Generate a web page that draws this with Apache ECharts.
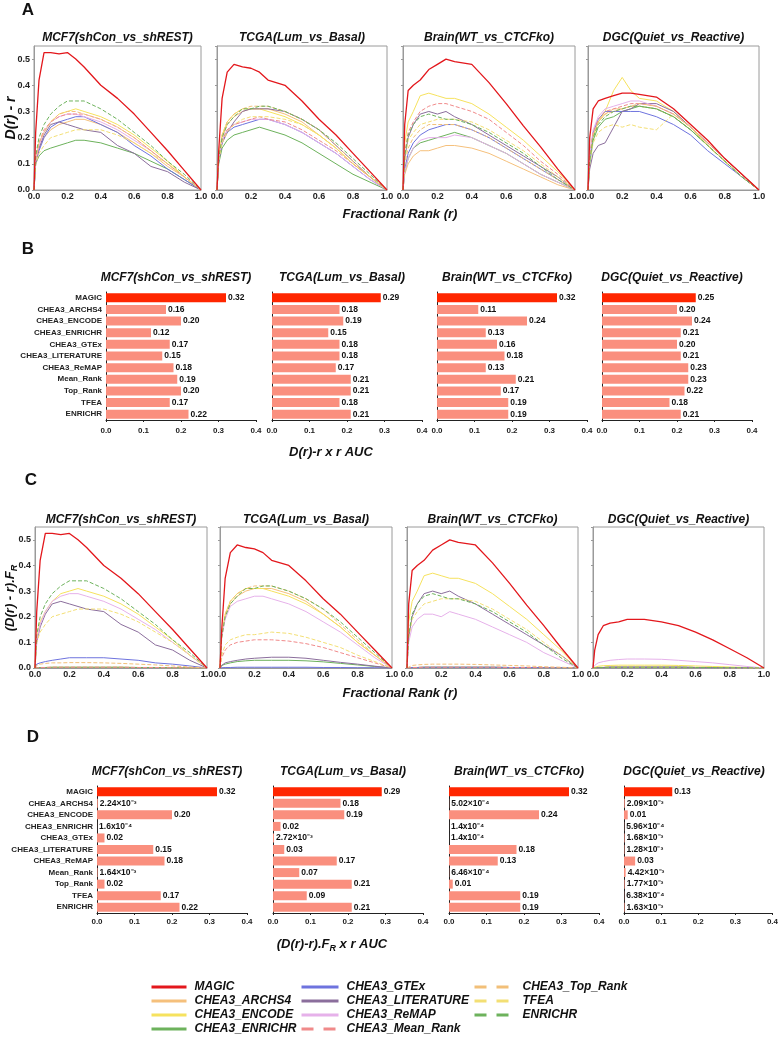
<!DOCTYPE html>
<html><head><meta charset="utf-8">
<script src="https://cdn.jsdelivr.net/npm/echarts/dist/echarts.min.js"></script>
<style>html,body{margin:0;padding:0;background:#fff}#c{width:781px;height:1041px}</style>
</head><body><div id="c"></div><script>
// ---------- DATA ----------
const rGrid = [0, 0.01, 0.03, 0.06, 0.1, 0.15, 0.2, 0.25, 0.3, 0.4, 0.5, 0.6, 0.7, 0.8, 0.9, 1.0];
const datasetTitles = ['MCF7(shCon_vs_shREST)', 'TCGA(Lum_vs_Basal)', 'Brain(WT_vs_CTCFko)', 'DGC(Quiet_vs_Reactive)'];
const legendNames = ['MAGIC','CHEA3_ARCHS4','CHEA3_ENCODE','CHEA3_ENRICHR','CHEA3_GTEx','CHEA3_LITERATURE','CHEA3_ReMAP','CHEA3_Mean_Rank','CHEA3_Top_Rank','TFEA','ENRICHR'];
const barCategories = ['MAGIC','CHEA3_ARCHS4','CHEA3_ENCODE','CHEA3_ENRICHR','CHEA3_GTEx','CHEA3_LITERATURE','CHEA3_ReMAP','Mean_Rank','Top_Rank','TFEA','ENRICHR'];
const lineColors = ['#e3171c','#f5c07c','#f6e25e','#6db25c','#6e73de','#8b6e9c','#e6b1ea','#f08a8a','#f2bf78','#f3df74','#6db25c'];
const lineDashed = [false,false,false,false,false,false,false,true,true,true,true];

const near0 = [0, 0.001, 0.002, 0.002, 0.003, 0.003, 0.003, 0.003, 0.003, 0.003, 0.003, 0.002, 0.002, 0.001, 0.001, 0];

// Panel A: D(r) - r
const curvesA_MCF7 = [
  [0, 0.22, 0.42, 0.525, 0.525, 0.52, 0.525, 0.50, 0.47, 0.40, 0.35, 0.29, 0.22, 0.15, 0.075, 0],
  [0, 0.11, 0.16, 0.20, 0.23, 0.25, 0.26, 0.27, 0.27, 0.25, 0.22, 0.18, 0.14, 0.09, 0.05, 0],
  [0, 0.12, 0.18, 0.22, 0.26, 0.29, 0.30, 0.31, 0.30, 0.28, 0.25, 0.21, 0.16, 0.11, 0.05, 0],
  [0, 0.10, 0.13, 0.15, 0.16, 0.17, 0.18, 0.19, 0.19, 0.18, 0.16, 0.14, 0.11, 0.08, 0.04, 0],
  [0, 0.10, 0.15, 0.20, 0.24, 0.26, 0.27, 0.28, 0.28, 0.25, 0.22, 0.17, 0.13, 0.08, 0.04, 0],
  [0, 0.10, 0.16, 0.21, 0.25, 0.26, 0.25, 0.24, 0.23, 0.22, 0.17, 0.14, 0.09, 0.07, 0.03, 0],
  [0, 0.11, 0.17, 0.22, 0.26, 0.28, 0.29, 0.29, 0.28, 0.26, 0.23, 0.19, 0.15, 0.10, 0.05, 0],
  [0, 0.12, 0.18, 0.23, 0.26, 0.28, 0.29, 0.29, 0.29, 0.27, 0.24, 0.20, 0.15, 0.10, 0.05, 0],
  [0, 0.12, 0.18, 0.22, 0.26, 0.29, 0.30, 0.30, 0.29, 0.27, 0.24, 0.20, 0.15, 0.10, 0.05, 0],
  [0, 0.10, 0.14, 0.17, 0.20, 0.21, 0.22, 0.23, 0.23, 0.23, 0.21, 0.18, 0.14, 0.10, 0.05, 0],
  [0, 0.13, 0.20, 0.25, 0.29, 0.32, 0.34, 0.34, 0.34, 0.31, 0.27, 0.22, 0.17, 0.11, 0.06, 0]
];
const curvesA_TCGA = [
  [0, 0.15, 0.35, 0.45, 0.48, 0.47, 0.465, 0.45, 0.42, 0.40, 0.34, 0.27, 0.21, 0.14, 0.07, 0],
  [0, 0.12, 0.20, 0.25, 0.28, 0.30, 0.31, 0.31, 0.31, 0.29, 0.26, 0.21, 0.16, 0.10, 0.05, 0],
  [0, 0.13, 0.21, 0.26, 0.29, 0.31, 0.31, 0.31, 0.30, 0.28, 0.25, 0.21, 0.16, 0.10, 0.05, 0],
  [0, 0.10, 0.16, 0.19, 0.21, 0.22, 0.23, 0.24, 0.23, 0.21, 0.18, 0.14, 0.10, 0.06, 0.03, 0],
  [0, 0.11, 0.18, 0.22, 0.24, 0.25, 0.26, 0.27, 0.27, 0.25, 0.22, 0.18, 0.14, 0.09, 0.04, 0],
  [0, 0.11, 0.18, 0.22, 0.26, 0.30, 0.31, 0.31, 0.31, 0.30, 0.27, 0.23, 0.17, 0.11, 0.05, 0],
  [0, 0.12, 0.19, 0.23, 0.25, 0.26, 0.27, 0.27, 0.27, 0.25, 0.22, 0.18, 0.14, 0.09, 0.04, 0],
  [0, 0.12, 0.19, 0.23, 0.25, 0.26, 0.27, 0.28, 0.27, 0.26, 0.23, 0.19, 0.15, 0.10, 0.05, 0],
  [0, 0.13, 0.21, 0.26, 0.29, 0.31, 0.32, 0.32, 0.32, 0.30, 0.27, 0.23, 0.17, 0.11, 0.05, 0],
  [0, 0.11, 0.18, 0.22, 0.25, 0.27, 0.28, 0.28, 0.28, 0.27, 0.25, 0.21, 0.16, 0.10, 0.05, 0],
  [0, 0.12, 0.20, 0.25, 0.28, 0.31, 0.31, 0.32, 0.32, 0.30, 0.27, 0.23, 0.18, 0.12, 0.06, 0]
];
const curvesA_Brain = [
  [0, 0.25, 0.38, 0.40, 0.42, 0.46, 0.48, 0.50, 0.49, 0.48, 0.41, 0.33, 0.245, 0.165, 0.08, 0],
  [0, 0.06, 0.10, 0.13, 0.15, 0.15, 0.16, 0.17, 0.17, 0.16, 0.14, 0.11, 0.08, 0.05, 0.02, 0],
  [0, 0.18, 0.26, 0.30, 0.36, 0.37, 0.36, 0.35, 0.35, 0.33, 0.29, 0.24, 0.19, 0.13, 0.07, 0],
  [0, 0.07, 0.12, 0.16, 0.18, 0.19, 0.20, 0.21, 0.22, 0.20, 0.17, 0.14, 0.10, 0.06, 0.03, 0],
  [0, 0.08, 0.14, 0.18, 0.21, 0.23, 0.24, 0.25, 0.25, 0.23, 0.20, 0.16, 0.12, 0.08, 0.04, 0],
  [0, 0.12, 0.20, 0.25, 0.29, 0.30, 0.29, 0.30, 0.28, 0.25, 0.21, 0.17, 0.13, 0.09, 0.05, 0],
  [0, 0.07, 0.12, 0.16, 0.19, 0.20, 0.20, 0.20, 0.21, 0.20, 0.17, 0.14, 0.10, 0.06, 0.03, 0],
  [0, 0.14, 0.22, 0.26, 0.30, 0.32, 0.33, 0.33, 0.32, 0.30, 0.27, 0.22, 0.17, 0.11, 0.06, 0],
  [0, 0.10, 0.16, 0.20, 0.23, 0.25, 0.25, 0.25, 0.25, 0.23, 0.20, 0.16, 0.12, 0.08, 0.04, 0],
  [0, 0.12, 0.19, 0.22, 0.25, 0.26, 0.27, 0.27, 0.27, 0.26, 0.23, 0.19, 0.15, 0.10, 0.05, 0],
  [0, 0.13, 0.21, 0.25, 0.28, 0.29, 0.28, 0.27, 0.27, 0.25, 0.22, 0.18, 0.14, 0.09, 0.04, 0]
];
const curvesA_DGC = [
  [0, 0.20, 0.31, 0.34, 0.35, 0.36, 0.37, 0.37, 0.365, 0.355, 0.31, 0.25, 0.19, 0.12, 0.06, 0],
  [0, 0.12, 0.21, 0.26, 0.29, 0.31, 0.31, 0.32, 0.32, 0.31, 0.28, 0.23, 0.17, 0.11, 0.05, 0],
  [0, 0.12, 0.20, 0.26, 0.30, 0.38, 0.43, 0.38, 0.35, 0.34, 0.30, 0.24, 0.17, 0.11, 0.05, 0],
  [0, 0.10, 0.19, 0.24, 0.27, 0.28, 0.30, 0.31, 0.32, 0.31, 0.28, 0.23, 0.17, 0.11, 0.05, 0],
  [0, 0.12, 0.22, 0.27, 0.30, 0.30, 0.30, 0.30, 0.30, 0.28, 0.25, 0.21, 0.15, 0.10, 0.05, 0],
  [0, 0.08, 0.14, 0.17, 0.18, 0.24, 0.30, 0.31, 0.33, 0.33, 0.30, 0.24, 0.18, 0.12, 0.06, 0],
  [0, 0.13, 0.23, 0.28, 0.31, 0.32, 0.33, 0.34, 0.34, 0.32, 0.29, 0.24, 0.18, 0.12, 0.06, 0],
  [0, 0.13, 0.22, 0.27, 0.30, 0.31, 0.32, 0.33, 0.33, 0.32, 0.29, 0.24, 0.18, 0.12, 0.06, 0],
  [0, 0.12, 0.21, 0.26, 0.29, 0.30, 0.31, 0.32, 0.33, 0.32, 0.29, 0.24, 0.18, 0.12, 0.06, 0],
  [0, 0.10, 0.18, 0.22, 0.24, 0.25, 0.24, 0.25, 0.24, 0.23, 0.29, 0.24, 0.17, 0.11, 0.05, 0],
  [0, 0.11, 0.20, 0.25, 0.28, 0.30, 0.31, 0.32, 0.32, 0.31, 0.28, 0.23, 0.17, 0.11, 0.05, 0]
];

// Panel C: (D(r) - r).F_R
const curvesC_MCF7 = [
  curvesA_MCF7[0], near0, curvesA_MCF7[2], near0,
  [0, 0.015, 0.02, 0.025, 0.03, 0.035, 0.04, 0.04, 0.04, 0.04, 0.035, 0.03, 0.02, 0.015, 0.008, 0],
  curvesA_MCF7[5], curvesA_MCF7[6], near0,
  [0, 0.01, 0.015, 0.018, 0.02, 0.02, 0.021, 0.021, 0.021, 0.02, 0.018, 0.015, 0.012, 0.008, 0.004, 0],
  curvesA_MCF7[9], curvesA_MCF7[10]
];
const curvesC_TCGA = [
  curvesA_TCGA[0], curvesA_TCGA[1], curvesA_TCGA[2],
  [0, 0.01, 0.015, 0.02, 0.025, 0.028, 0.03, 0.03, 0.03, 0.03, 0.028, 0.024, 0.018, 0.012, 0.006, 0],
  near0,
  [0, 0.01, 0.02, 0.025, 0.03, 0.035, 0.038, 0.04, 0.042, 0.042, 0.038, 0.03, 0.022, 0.015, 0.007, 0],
  [0, 0.12, 0.19, 0.24, 0.26, 0.27, 0.28, 0.28, 0.27, 0.25, 0.22, 0.18, 0.14, 0.09, 0.04, 0],
  [0, 0.04, 0.07, 0.09, 0.10, 0.105, 0.11, 0.11, 0.11, 0.105, 0.095, 0.08, 0.06, 0.04, 0.02, 0],
  curvesA_TCGA[8],
  [0, 0.05, 0.09, 0.11, 0.12, 0.13, 0.13, 0.135, 0.14, 0.135, 0.12, 0.10, 0.08, 0.05, 0.025, 0],
  curvesA_TCGA[10]
];
const curvesC_Brain = [
  curvesA_Brain[0], near0, curvesA_Brain[2], near0, near0, curvesA_Brain[5],
  [0, 0.10, 0.16, 0.19, 0.21, 0.21, 0.20, 0.22, 0.21, 0.19, 0.16, 0.13, 0.10, 0.06, 0.03, 0],
  near0,
  [0, 0.005, 0.01, 0.012, 0.014, 0.015, 0.015, 0.015, 0.015, 0.014, 0.012, 0.01, 0.008, 0.005, 0.003, 0],
  curvesA_Brain[9], curvesA_Brain[10]
];
const curvesC_DGC = [
  [0, 0.07, 0.13, 0.165, 0.175, 0.18, 0.19, 0.19, 0.19, 0.18, 0.165, 0.14, 0.11, 0.075, 0.04, 0],
  near0,
  [0, 0.004, 0.007, 0.009, 0.01, 0.011, 0.011, 0.011, 0.011, 0.011, 0.01, 0.008, 0.006, 0.004, 0.002, 0],
  near0, near0, near0,
  [0, 0.01, 0.02, 0.025, 0.03, 0.033, 0.035, 0.035, 0.035, 0.034, 0.03, 0.025, 0.02, 0.013, 0.006, 0],
  near0, near0, near0, near0
];

// Panel B: D(r)-r x r AUC
const aucB_MCF7  = [0.32, 0.16, 0.20, 0.12, 0.17, 0.15, 0.18, 0.19, 0.20, 0.17, 0.22];
const aucB_TCGA  = [0.29, 0.18, 0.19, 0.15, 0.18, 0.18, 0.17, 0.21, 0.21, 0.18, 0.21];
const aucB_Brain = [0.32, 0.11, 0.24, 0.13, 0.16, 0.18, 0.13, 0.21, 0.17, 0.19, 0.19];
const aucB_DGC   = [0.25, 0.20, 0.24, 0.21, 0.20, 0.21, 0.23, 0.23, 0.22, 0.18, 0.21];

// Panel D: (D(r)-r).F_R x r AUC
const aucD_MCF7  = [0.32, 0.00224, 0.20, 0.00016, 0.02, 0.15, 0.18, 0.00164, 0.02, 0.17, 0.22];
const aucD_TCGA  = [0.29, 0.18, 0.19, 0.02, 0.00272, 0.03, 0.17, 0.07, 0.21, 0.09, 0.21];
const aucD_Brain = [0.32, 0.000502, 0.24, 0.00014, 0.00014, 0.18, 0.13, 0.000646, 0.01, 0.19, 0.19];
const aucD_DGC   = [0.13, 0.00209, 0.01, 0.000596, 0.00168, 0.00128, 0.03, 0.00442, 0.00177, 0.000638, 0.00163];
const labelD_MCF7  = ['0.32','2.24×10⁻³','0.20','1.6x10⁻⁴','0.02','0.15','0.18','1.64×10⁻³','0.02','0.17','0.22'];
const labelD_TCGA  = ['0.29','0.18','0.19','0.02','2.72×10⁻³','0.03','0.17','0.07','0.21','0.09','0.21'];
const labelD_Brain = ['0.32','5.02×10⁻⁴','0.24','1.4x10⁻⁴','1.4x10⁻⁴','0.18','0.13','6.46×10⁻⁴','0.01','0.19','0.19'];
const labelD_DGC   = ['0.13','2.09×10⁻³','0.01','5.96×10⁻⁴','1.68×10⁻³','1.28×10⁻³','0.03','4.42×10⁻³','1.77×10⁻³','6.38×10⁻⁴','1.63×10⁻³'];

// ---------- BUILD ----------
const FONT = 'Liberation Sans, Arial, sans-serif';
const curvesA = [curvesA_MCF7, curvesA_TCGA, curvesA_Brain, curvesA_DGC];
const curvesC = [curvesC_MCF7, curvesC_TCGA, curvesC_Brain, curvesC_DGC];
const aucB = [aucB_MCF7, aucB_TCGA, aucB_Brain, aucB_DGC];
const aucD = [aucD_MCF7, aucD_TCGA, aucD_Brain, aucD_DGC];
const labelD = [labelD_MCF7, labelD_TCGA, labelD_Brain, labelD_DGC];

const gridA = [[34,167],[217,170],[403,172],[588,171]].map(([l,w]) => ({left:l, top:46, width:w, height:144}));
const gridB = [106,272,437,602].map(l => ({left:l, top:292, width:150, height:128}));
const gridC = [[35,172],[220,172],[407,171],[593,171]].map(([l,w]) => ({left:l, top:527, width:w, height:141}));
const gridD = [97,273,449,624].map(l => ({left:l, top:786, width:150, height:127}));

const grids = [], xAxes = [], yAxes = [], series = [], graphics = [];

function addLineGrid(g, idx, curves) {
  const gi = grids.length;
  grids.push(Object.assign({show:true, borderColor:'#9a9a9a', borderWidth:1, backgroundColor:'#fff'}, g));
  xAxes.push({gridIndex:gi, type:'value', min:0, max:1, interval:0.2,
    axisLine:{show:true, lineStyle:{color:'#9a9a9a'}}, axisTick:{show:false}, splitLine:{show:false},
    axisLabel:{margin:2, fontSize:9, fontWeight:'bold', color:'#222', fontFamily:FONT, formatter:v=>v.toFixed(1)}});
  yAxes.push({gridIndex:gi, type:'value', min:0, max:0.55, interval:0.1,
    axisLine:{show:true, lineStyle:{color:'#9a9a9a'}}, axisTick:{show:true, length:2, lineStyle:{color:'#9a9a9a'}},
    splitLine:{show:false},
    axisLabel:{show: idx===0, margin:4, fontSize:9, fontWeight:'bold', color:'#222', fontFamily:FONT, showMaxLabel:false,
      formatter:v=>v.toFixed(1)}});
  curves.forEach((vals, s) => {
    series.push({type:'line', name:legendNames[s], xAxisIndex:gi, yAxisIndex:gi, symbol:'none', animation:false,
      z: s===0 ? 5 : 3, silent:true,
      data: rGrid.map((r,i)=>[r, vals[i]]),
      itemStyle:{color:lineColors[s]},
      lineStyle:{color:lineColors[s], width: s===0 ? 1.3 : 1, type: lineDashed[s] ? [4,2] : 'solid'}});
  });
}
function addBarGrid(g, idx, vals, labels, labelMargin) {
  const gi = grids.length;
  grids.push(g);
  xAxes.push({gridIndex:gi, type:'value', min:0, max:0.4, interval:0.1,
    axisLine:{show:true, lineStyle:{color:'#222'}}, axisTick:{show:true, length:2, lineStyle:{color:'#222'}},
    splitLine:{show:false},
    axisLabel:{margin:labelMargin, fontSize:8, fontWeight:'bold', color:'#222', fontFamily:FONT, formatter:v=>v.toFixed(1)}});
  yAxes.push({gridIndex:gi, type:'category', inverse:true, data:barCategories,
    axisLine:{show:true, lineStyle:{color:'#222'}}, axisTick:{show:false},
    axisLabel:{show: idx===0, margin:4, fontSize:8, fontWeight:'bold', color:'#222', fontFamily:FONT}});
  series.push({type:'bar', xAxisIndex:gi, yAxisIndex:gi, barWidth:9, animation:false, silent:true,
    data: vals.map((v,i)=>({value:v, itemStyle:{color: i===0 ? '#ff2600' : '#fa8f7e'}})),
    label:{show:true, position:'right', distance:2, fontSize:8.5, fontWeight:'bold', color:'#111', fontFamily:FONT,
      formatter: p => labels ? labels[p.dataIndex] : p.value.toFixed(2)}});
}

gridA.forEach((g,i)=>addLineGrid(g,i,curvesA[i]));
gridB.forEach((g,i)=>addBarGrid(g,i,aucB[i],null,7));
gridC.forEach((g,i)=>addLineGrid(g,i,curvesC[i]));
gridD.forEach((g,i)=>addBarGrid(g,i,aucD[i],labelD[i],5));

function txt(x, y, text, font, opts) {
  graphics.push(Object.assign({type:'text', x:x, y:y, silent:true,
    style:Object.assign({text:text, font:font, fill:'#111', textAlign:'center', textVerticalAlign:'middle', verticalAlign:'middle'}, (opts&&opts.style)||{})},
    opts && opts.el || {}));
}
const titleFont = 'italic bold 12px ' + FONT;
const letterFont = 'bold 17px ' + FONT;
const axFont = 'italic bold 13px ' + FONT;
// panel letters
txt(28, 10, 'A', letterFont); txt(28, 249, 'B', letterFont); txt(31, 480, 'C', letterFont); txt(33, 737, 'D', letterFont);
// panel titles
gridA.forEach((g,i)=>txt(g.left+g.width/2, 38, datasetTitles[i], titleFont));
gridB.forEach((g,i)=>txt(g.left+g.width/2-5, 278, datasetTitles[i], titleFont));
gridC.forEach((g,i)=>txt(g.left+g.width/2, 520, datasetTitles[i], titleFont));
gridD.forEach((g,i)=>txt(g.left+g.width/2-5, 772, datasetTitles[i], titleFont));
// axis names
txt(400, 214, 'Fractional Rank (r)', axFont);
txt(400, 693, 'Fractional Rank (r)', axFont);
txt(331, 452, 'D(r)-r x r AUC', axFont);
txt(11, 118, 'D(r) - r', 'italic bold 14px ' + FONT, {el:{rotation:Math.PI/2}});
graphics.push({type:'text', x:10, y:598, rotation:Math.PI/2, silent:true,
  style:{text:'{a|(D(r) - r).F}{s|R}', textAlign:'center', textVerticalAlign:'middle', verticalAlign:'middle', fill:'#111',
    rich:{a:{font:axFont, lineHeight:18, fill:'#111'}, s:{font:'italic bold 9px '+FONT, lineHeight:8, verticalAlign:'bottom', fill:'#111'}}}});
graphics.push({type:'text', x:332, y:944, silent:true,
  style:{text:'{a|(D(r)-r).F}{s|R}{a| x r AUC}', textAlign:'center', textVerticalAlign:'middle', verticalAlign:'middle', fill:'#111',
    rich:{a:{font:axFont, lineHeight:18, fill:'#111'}, s:{font:'italic bold 9px '+FONT, lineHeight:8, verticalAlign:'bottom', fill:'#111'}}}});

// legends
const legText = {fontSize:12, fontWeight:'bold', fontStyle:'italic', color:'#111', fontFamily:FONT, lineHeight:12, padding:[0,0,0,3]};
function legItems(idxs){ return idxs.map(i=>({name:legendNames[i],
  lineStyle: lineDashed[i] ? {type:[12,10], width:3} : {width:3}})); }
const legends = [
  {left:150, itemWidth:35, data:legItems([0,1,2,3])},
  {left:300, itemWidth:37, data:legItems([4,5,6,7])},
  {left:473, itemWidth:40, data:legItems([8,9,10])}
].map(l=>Object.assign({orient:'vertical', top:981, height:60, padding:0, itemHeight:10, itemGap:2, selectedMode:false,
  textStyle:legText, itemStyle:{opacity:0}, lineStyle:{width:3}}, l));

const chart = echarts.init(document.getElementById('c'), null, {renderer:'canvas'});
chart.setOption({
  animation:false, backgroundColor:'#fff',
  grid:grids, xAxis:xAxes, yAxis:yAxes, series:series, legend:legends, graphic:graphics
});
</script></body></html>
